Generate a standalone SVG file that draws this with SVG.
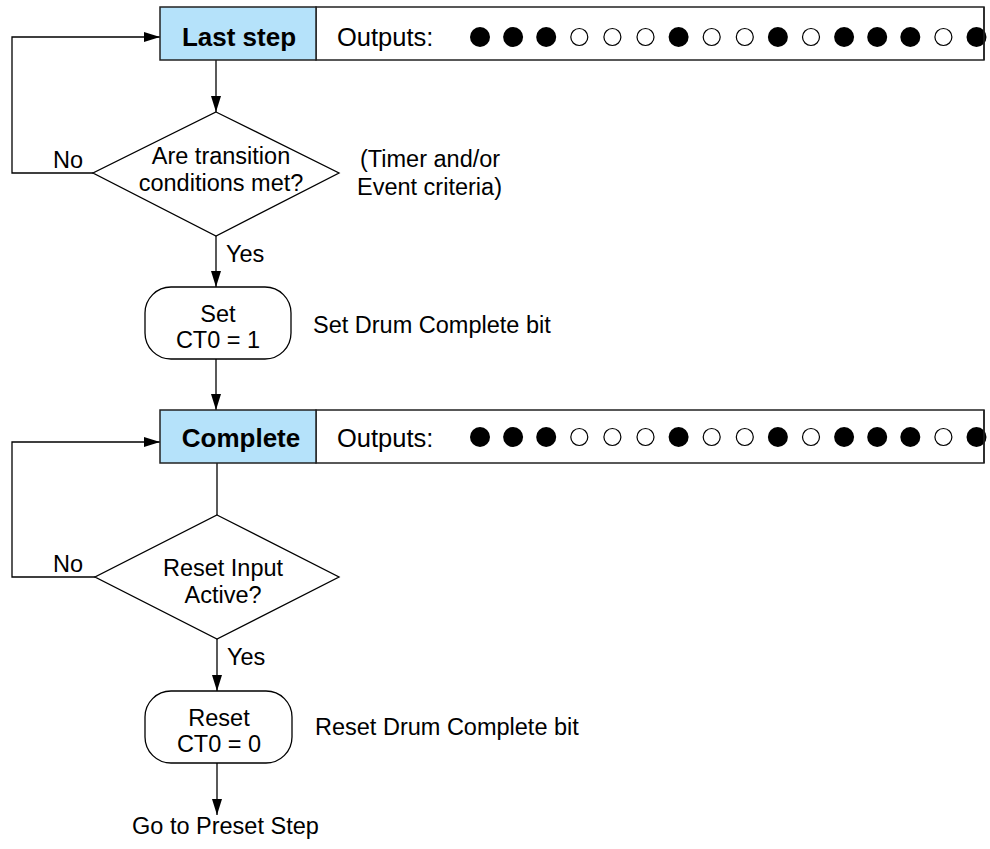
<svg xmlns="http://www.w3.org/2000/svg" width="990" height="849" viewBox="0 0 990 849">
<defs>
<style>
.t{font-family:"Liberation Sans",Arial,sans-serif;font-size:23.5px;fill:#000}
.b{font-family:"Liberation Sans",Arial,sans-serif;font-size:26px;font-weight:bold;fill:#000}
.o{font-family:"Liberation Sans",Arial,sans-serif;font-size:25.5px;fill:#000}
.step{fill:#b5e2fa;stroke:#222;stroke-width:1.5}
.out{fill:#fff;stroke:#222;stroke-width:1.5}
.shape{fill:#fff;stroke:#000;stroke-width:1.3}
.ln{fill:none;stroke:#000;stroke-width:1.3}
.f{fill:#000}
.h{fill:#fff;stroke:#000;stroke-width:1.2}
</style>
<marker id="ah" markerUnits="userSpaceOnUse" markerWidth="16" markerHeight="10" refX="16" refY="5" orient="auto">
<path d="M0,0 L16,5 L0,10 z" fill="#000"/>
</marker>
<g id="dots">
<circle class="f" cx="0" cy="0" r="10"/>
<circle class="f" cx="33.1" cy="0" r="10"/>
<circle class="f" cx="66.2" cy="0" r="10"/>
<circle class="h" cx="99.3" cy="0" r="8.5"/>
<circle class="h" cx="132.4" cy="0" r="8.5"/>
<circle class="h" cx="165.5" cy="0" r="8.5"/>
<circle class="f" cx="198.6" cy="0" r="10"/>
<circle class="h" cx="231.7" cy="0" r="8.5"/>
<circle class="h" cx="264.8" cy="0" r="8.5"/>
<circle class="f" cx="297.9" cy="0" r="10"/>
<circle class="h" cx="331" cy="0" r="8.5"/>
<circle class="f" cx="364.1" cy="0" r="10"/>
<circle class="f" cx="397.2" cy="0" r="10"/>
<circle class="f" cx="430.3" cy="0" r="10"/>
<circle class="h" cx="463.4" cy="0" r="8.5"/>
<circle class="f" cx="496.5" cy="0" r="10"/>
</g>
</defs>
<rect width="990" height="849" fill="#fff"/>

<g id="connectors">
<line class="ln" x1="216" y1="60" x2="216" y2="112" marker-end="url(#ah)"/>
<polyline class="ln" points="93,173 12,173 12,37 160,37" marker-end="url(#ah)"/>
<line class="ln" x1="216" y1="236" x2="216" y2="287" marker-end="url(#ah)"/>
<line class="ln" x1="216" y1="359" x2="216" y2="410" marker-end="url(#ah)"/>
<line class="ln" x1="217" y1="463" x2="217" y2="515"/>
<polyline class="ln" points="95,577 12,577 12,442 160,442" marker-end="url(#ah)"/>
<line class="ln" x1="217" y1="639" x2="217" y2="691" marker-end="url(#ah)"/>
<line class="ln" x1="217" y1="763" x2="217" y2="815" marker-end="url(#ah)"/>
<text class="t" x="53" y="168">No</text>
<text class="t" x="226" y="262">Yes</text>
<text class="t" x="53" y="572">No</text>
<text class="t" x="227" y="665">Yes</text>
</g>

<g id="last-step">
<rect class="out" x="316" y="7" width="668" height="53"/>
<use href="#dots" x="480" y="37"/>
<line x1="984" y1="7" x2="984" y2="60" stroke="#222" stroke-width="1.5"/>
<rect class="step" x="160" y="7" width="156" height="53"/>
<text class="b" x="239" y="46" text-anchor="middle">Last step</text>
<text class="o" x="337" y="46">Outputs:</text>
</g>

<g id="transition-decision">
<polygon class="shape" points="216,112 339,173 216,236 93,173"/>
<text class="t" x="221" y="164" text-anchor="middle">Are transition</text>
<text class="t" x="221" y="191" text-anchor="middle">conditions met?</text>
<text class="t" x="360" y="167">(Timer and/or</text>
<text class="t" x="357" y="195">Event criteria)</text>
</g>

<g id="set-ct0">
<rect class="shape" x="145" y="287" width="146" height="72" rx="26" ry="26"/>
<text class="t" x="218" y="322" text-anchor="middle">Set</text>
<text class="t" x="218" y="348" text-anchor="middle">CT0 = 1</text>
<text class="t" x="313" y="333">Set Drum Complete bit</text>
</g>

<g id="complete">
<rect class="out" x="316" y="410" width="668" height="53"/>
<use href="#dots" x="480" y="437"/>
<line x1="984" y1="410" x2="984" y2="463" stroke="#222" stroke-width="1.5"/>
<rect class="step" x="160" y="410" width="156" height="53"/>
<text class="b" x="241" y="447" text-anchor="middle">Complete</text>
<text class="o" x="337" y="447">Outputs:</text>
</g>

<g id="reset-decision">
<polygon class="shape" points="217,515 339,577 217,639 95,577"/>
<text class="t" x="223" y="576" text-anchor="middle">Reset Input</text>
<text class="t" x="223" y="603" text-anchor="middle">Active?</text>
</g>

<g id="reset-ct0">
<rect class="shape" x="145" y="691" width="147" height="72" rx="26" ry="26"/>
<text class="t" x="219" y="726" text-anchor="middle">Reset</text>
<text class="t" x="219" y="752" text-anchor="middle">CT0 = 0</text>
<text class="t" x="315" y="735">Reset Drum Complete bit</text>
</g>

<g id="go-preset">
<text class="t" x="132" y="834">Go to Preset Step</text>
</g>
</svg>
